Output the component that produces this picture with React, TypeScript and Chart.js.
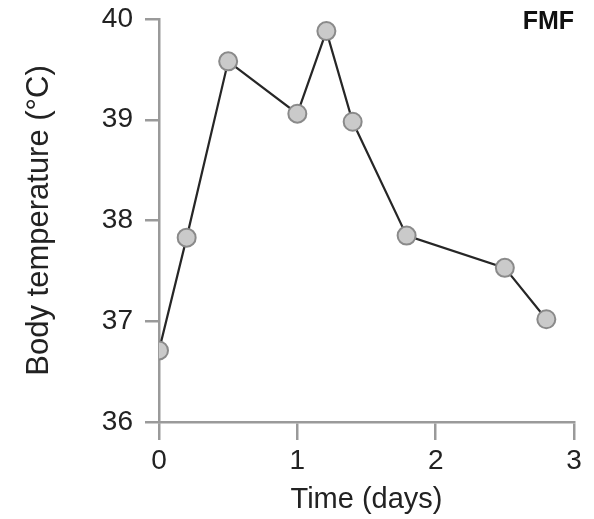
import React, { useEffect, useRef } from "react";
import { Chart, registerables } from "chart.js";

Chart.register(...registerables);

const timeDays = [0, 0.2, 0.5, 1.0, 1.21, 1.4, 1.79, 2.5, 2.8];
const bodyTemp = [36.71, 37.83, 39.58, 39.06, 39.88, 38.98, 37.85, 37.53, 37.02];
const xTicks = [0, 1, 2, 3];
const yTicks = [36, 37, 38, 39, 40];
const panelLabel = "FMF";

const labelPlugin = {
  id: "panelLabel",
  afterDraw(chart: any) {
    const ctx = chart.ctx;
    ctx.save();
    ctx.font = "bold 25px 'Liberation Sans', Arial, sans-serif";
    ctx.fillStyle = "#111";
    ctx.textAlign = "right";
    ctx.textBaseline = "middle";
    ctx.fillText(panelLabel, 574, 22);
    ctx.restore();
  },
};

export default function App() {
  const ref = useRef<HTMLCanvasElement>(null);
  useEffect(() => {
    if (!ref.current) return;
    const font = "'Liberation Sans', Arial, sans-serif";
    const chart = new Chart(ref.current, {
      type: "scatter",
      data: {
        datasets: [
          {
            data: timeDays.map((x, i) => ({ x, y: bodyTemp[i] })),
            showLine: true,
            borderColor: "#262626",
            borderWidth: 2.2,
            backgroundColor: "#c8c8c8",
            pointBackgroundColor: "#cacaca",
            pointBorderColor: "#8a8a8a",
            pointBorderWidth: 2,
            pointRadius: 9,
          },
        ],
      },
      options: {
        responsive: false,
        animation: false,
        events: [],
        layout: { padding: { left: 0, right: 20, top: 19, bottom: 0 } },
        plugins: { legend: { display: false }, tooltip: { enabled: false } },
        scales: {
          x: {
            type: "linear",
            min: 0,
            max: 3,
            afterBuildTicks: (s: any) => {
              s.ticks = xTicks.map((v) => ({ value: v }));
            },
            afterFit: (s: any) => {
              s.height = 97;
              s.paddingLeft = 0;
              s.paddingRight = 0;
            },
            border: { color: "#9a9a9a", width: 2.5 },
            grid: { drawOnChartArea: false, color: "#9a9a9a", lineWidth: 2.5, tickLength: 18 },
            ticks: { color: "#222", font: { family: font, size: 28 }, padding: 4 },
            title: {
              display: true,
              text: "Time (days)",
              color: "#222",
              font: { family: font, size: 29 },
              padding: { top: 0, bottom: 1.5 },
            },
          },
          y: {
            type: "linear",
            min: 36,
            max: 40,
            afterBuildTicks: (s: any) => {
              s.ticks = yTicks.map((v) => ({ value: v }));
            },
            afterFit: (s: any) => {
              s.width = 159;
              s.paddingTop = 0;
              s.paddingBottom = 0;
            },
            border: { color: "#9a9a9a", width: 2.5 },
            grid: { drawOnChartArea: false, color: "#9a9a9a", lineWidth: 2.5, tickLength: 14 },
            ticks: { color: "#222", font: { family: font, size: 28 }, padding: 12 },
            title: {
              display: true,
              text: "Body temperature (°C)",
              color: "#222",
              font: { family: font, size: 31 },
              padding: { top: 21, bottom: 0 },
            },
          },
        },
      },
      plugins: [labelPlugin],
    });
    return () => chart.destroy();
  }, []);
  return (
    <div style={{ position: "absolute", left: 0, top: 0, width: 594, height: 519, background: "#fff" }}>
      <canvas ref={ref} width={594} height={519} style={{ width: 594, height: 519 }} />
    </div>
  );
}
